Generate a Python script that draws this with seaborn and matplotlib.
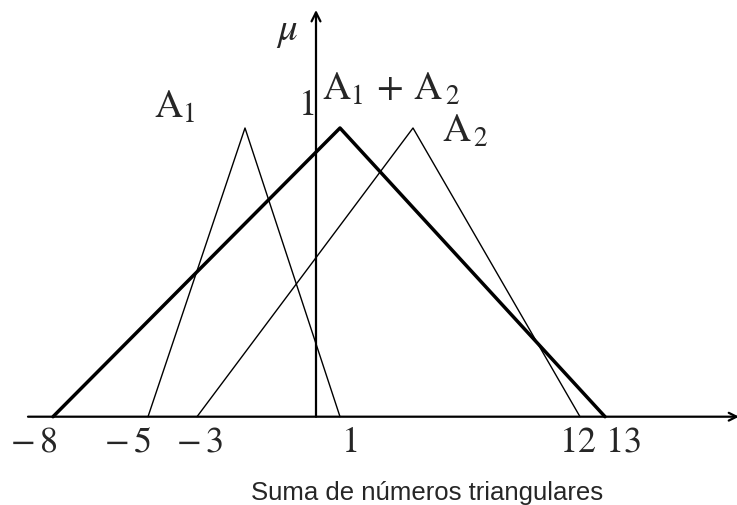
# Suma de dos números triangulares A1 + A2 (dibujo esquemático):
# el eje horizontal del original no es uniforme, así que se usa una
# escala por tramos para reproducirlo.

import seaborn as sns
import matplotlib.pyplot as plt
import numpy as np
import pandas as pd

# Números triangulares (a, b, c) y su pertenencia
a1 = [-5, -2, 1]
a2 = [-3, 3, 12]
suma = [-8, 1, 13]
mu = [0, 1, 0]

marcas = [-8, -5, -3, 1, 12, 13]
etiquetas = [r"$-\,8$", r"$-\,5$", r"$-\,3$", r"$1$", r"$12$", r"$13$"]

df = pd.DataFrame({
    "x": a1 + a2 + suma,
    "mu": mu * 3,
    "serie": ["A1"] * 3 + ["A2"] * 3 + ["A1+A2"] * 3,
})

# Escala por tramos del dibujo original (valor -> píxel)
esc_val = np.array([-8, -5, -3, -2, 0, 1, 3, 12, 13], dtype=float)
esc_px = np.array([53, 148, 197, 245, 316, 340, 413, 580, 605], dtype=float)


def tramos(x, xp, fp):
    x = np.asarray(x, dtype=float)
    y = np.interp(x, xp, fp)
    s0 = (fp[1] - fp[0]) / (xp[1] - xp[0])
    s1 = (fp[-1] - fp[-2]) / (xp[-1] - xp[-2])
    y = np.where(x < xp[0], fp[0] + (x - xp[0]) * s0, y)
    y = np.where(x > xp[-1], fp[-1] + (x - xp[-1]) * s1, y)
    return y


adelante = lambda x: tramos(x, esc_val, esc_px)
inversa = lambda p: tramos(p, esc_px, esc_val)

W, H = 737, 505
y0, y1 = 416.7, 128.0  # píxeles de mu=0 y mu=1
py2mu = lambda p: (y0 - p) / (y0 - y1)

sns.set_style("white")
plt.rcParams["mathtext.fontset"] = "stix"

fig = plt.figure(figsize=(W / 100, H / 100), dpi=100)
ax = fig.add_axes([0, 0, 1, 1])
ax.set_xscale("function", functions=(adelante, inversa))
ax.set_xlim(inversa(0), inversa(W))
ax.set_ylim(py2mu(H), py2mu(0))
ax.axis("off")

# Triángulos
sns.lineplot(data=df[df.serie != "A1+A2"], x="x", y="mu", units="serie",
             estimator=None, sort=False, color="black", linewidth=1.0, ax=ax)
sns.lineplot(data=df[df.serie == "A1+A2"], x="x", y="mu",
             estimator=None, sort=False, color="black", linewidth=2.5, ax=ax)

# Ejes con flecha
ax.annotate("", xy=(inversa(W + 2), 0), xytext=(inversa(28), 0),
            arrowprops=dict(arrowstyle="->", lw=1.6, color="black",
                            shrinkA=0, shrinkB=0, mutation_scale=14),
            annotation_clip=False)
ax.annotate("", xy=(0, py2mu(10)), xytext=(0, 0),
            arrowprops=dict(arrowstyle="->", lw=1.6, color="black",
                            shrinkA=0, shrinkB=0, mutation_scale=16),
            annotation_clip=False)

# Etiquetas del eje horizontal
desp = [-19, -21, 2, 9, -2, 18]
for v, t, d in zip(marcas, etiquetas, desp):
    ax.annotate(t, xy=(v, 0), xytext=(d, -35), textcoords="offset pixels",
                ha="center", va="baseline", fontsize=26)

# Textos
def texto(x, y, s, **kw):
    ax.annotate(s, xy=(x, H - y), xycoords="figure pixels", **kw)


texto(287, 40, r"$\mu$", fontsize=28, ha="center", va="baseline")
texto(314, 115, r"$1$", fontsize=26, ha="right", va="baseline")
texto(322, 100, r"$\mathrm{A}_1\,+\,\mathrm{A}_{\,2}$", fontsize=28,
      ha="left", va="baseline")
texto(154, 118, r"$\mathrm{A}_1$", fontsize=28, ha="left", va="baseline")
texto(442, 142, r"$\mathrm{A}_{\,2}$", fontsize=28, ha="left",
      va="baseline")
texto(427, 500, "Suma de números triangulares", fontsize=18.5,
      family="Liberation Sans", ha="center", va="baseline")

plt.savefig("out.png", dpi=100)
